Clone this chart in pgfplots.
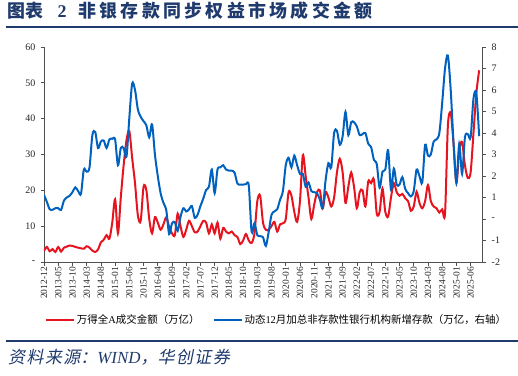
\documentclass[border=0pt]{standalone}
\usepackage{fontspec}
\setmainfont{Liberation Serif}
\newfontfamily\cjk{Noto Sans CJK SC}
\newfontfamily\cjkit[FakeSlant=0.2]{Noto Sans CJK SC}
\usepackage{pgfplots}
\pgfplotsset{compat=1.18}
\usepackage{pgfplotstable}
\definecolor{myred}{RGB}{230,20,30}
\definecolor{myblue}{RGB}{0,98,190}
\definecolor{navy}{RGB}{31,58,108}
\definecolor{axisgray}{RGB}{80,80,80}

\pgfplotstableread{
m v
0 3.1
1 4.2
2 3.0
3 3.6
4 2.8
5 4.2
6 2.9
7 4.0
8 4.3
9 4.6
10 4.5
11 4.2
12 4.0
13 3.8
14 3.7
15 4.4
16 4.0
17 3.2
18 2.8
19 3.5
20 5.5
21 6.2
22 7.5
23 6.5
24 11
25 17.5
26 8
27 18
28 27
29 34
30 36.5
31 29
32 22
33 13
34 11.5
35 21
36 20
37 12
38 8
39 12.5
40 11
41 9
42 10.5
43 12.5
44 9.8
45 8
46 7.5
47 13.5
48 10
49 7
50 9
51 11.5
52 10
53 8.3
54 8.5
55 10
56 11.5
57 11
58 8
59 10.5
60 8
61 11
62 6.5
63 9.5
64 8.5
65 8
66 8.5
67 7.5
68 7
69 5
70 6
71 7.8
72 6
73 5.3
74 8
75 17
76 18.5
77 11
78 9
79 9
80 10
81 11.2
82 8.5
83 10.5
84 10.8
85 12
86 19.5
87 18.5
88 14
89 11.2
90 17
91 29.8
92 24
93 18
94 12
95 16
96 19.5
97 20
98 15
99 19.5
100 18
101 15.5
102 18
103 25
104 28.8
105 25
106 16.5
107 21
108 25
109 21
110 15
111 19.5
112 20
113 15.5
114 22.5
115 22
116 23
117 13.5
118 14
119 20.5
120 14
121 12.7
122 18
123 22
124 19.5
125 18.5
126 19
127 17.8
128 17
129 14.3
130 15.5
131 19.6
132 16.5
133 15
134 17
135 21.5
136 17
137 15.5
138 15
139 13.8
140 14.7
141 13.5
142 38
143 41.5
144 33
145 22
146 31
147 33.5
148 27
149 23.5
150 25
151 36
152 47
153 53.5
}\reddata

\pgfplotstableread{
m v
0 1.12
1 0.8
2 0.45
3 0.43
4 0.5
5 0.5
6 0.42
7 0.85
8 1.0
9 1.08
10 1.25
11 1.47
12 1.3
13 1.17
14 2.3
15 2.2
16 2.4
17 3.9
18 4.05
19 3.3
20 3.6
21 3.65
22 3.3
23 3.7
24 3.73
25 3.7
26 2.5
27 3.3
28 3.3
29 2.9
30 4.7
31 6.3
32 6.0
33 5.1
34 4.75
35 4.55
36 4.35
37 3.8
38 4.4
39 3.0
40 2.0
41 1.2
42 0.75
43 0.4
44 -0.7
45 -0.2
46 -0.15
47 -0.55
48 0.1
49 0.5
50 0.35
51 0.45
52 0.6
53 0.05
54 0.2
55 0.6
56 0.95
57 1.35
58 1.5
59 2.3
60 1.2
61 2.3
62 2.4
63 2.5
64 2.3
65 2.25
66 2.25
67 2.15
68 1.65
69 1.6
70 1.6
71 1.62
72 1.55
73 -0.6
74 -0.2
75 -0.75
76 -0.8
77 -0.85
78 -1.25
79 -0.6
80 0.2
81 0.35
82 0.45
83 0.9
84 1.3
85 2.5
86 2.85
87 2.4
88 2.95
89 2.5
90 2.1
91 2.1
92 1.5
93 1.7
94 1.3
95 1.25
96 1.2
97 0.9
98 0.5
99 1.8
100 2.6
101 2.4
102 4.0
103 4.1
104 3.45
105 3.85
106 4.98
107 3.9
108 4.5
109 4.5
110 4.3
111 3.9
112 3.95
113 4.0
114 3.5
115 3.35
116 2.75
117 2.55
118 1.45
119 2.2
120 2.3
121 3.2
122 1.35
123 2.35
124 1.6
125 1.6
126 1.95
127 1.4
128 1.2
129 1.05
130 1.3
131 2.3
132 2.0
133 1.7
134 3.45
135 2.95
136 3.0
137 3.6
138 3.7
139 4.0
140 5.4
141 7.0
142 7.6
143 6.0
144 3.5
145 1.7
146 3.5
147 2.1
148 3.8
149 3.95
150 3.8
151 5.6
152 5.85
153 3.85
}\bluedata

\newcommand{\tk}{\kern3.3bp}

\begin{document}
\begin{tikzpicture}
\useasboundingbox (0bp,0bp) rectangle (518bp,376bp);
% title
\node[anchor=west, inner sep=0pt, text=navy, font=\fontsize{18}{18}\selectfont\bfseries] at (7bp,365.5bp)
 {{\cjk 图\kern0.5bp 表}\kern14bp 2\kern12bp{\cjk 非\tk 银\tk 存\tk 款\tk 同\tk 步\tk 权\tk 益\tk 市\tk 场\tk 成\tk 交\tk 金\tk 额}};
\draw[navy, line width=2bp] (6bp,349.3bp) -- (518bp,349.3bp);
\draw[navy, line width=2bp] (6bp,35.3bp) -- (518bp,35.3bp);
\node[anchor=west, inner sep=0pt, text=navy, font=\fontsize{17}{17}\selectfont] at (8bp,19bp)
 {\cjkit 资\kern1.5bp 料\kern1.5bp 来\kern1.5bp 源：{\rmfamily\itshape WIND}，华\kern1.5bp 创\kern1.5bp 证\kern1.5bp 券};

\begin{axis}[
  at={(44bp,114bp)}, anchor=south west,
  scale only axis, width=438bp, height=215bp,
  xmin=0, xmax=154, ymin=0, ymax=60,
  axis x line*=bottom, axis y line*=left,
  axis line style={axisgray, line width=0.8bp},
  tick style={axisgray, line width=0.7bp},
  tick align=outside, major tick length=3.5bp,
  xtick={0,5,...,150},
  xticklabels={2012-12,2013-05,2013-10,2014-03,2014-08,2015-01,2015-06,2015-11,2016-04,2016-09,2017-02,2017-07,2017-12,2018-05,2018-10,2019-03,2019-08,2020-01,2020-06,2020-11,2021-04,2021-09,2022-02,2022-07,2022-12,2023-05,2023-10,2024-03,2024-08,2025-01,2025-06},
  xticklabel style={rotate=90, anchor=east, font=\fontsize{9.5}{10}\selectfont, inner sep=1.5bp, text=black!85},
  ytick={0,10,...,60},
  yticklabels={-,10,20,30,40,50,60},
  yticklabel style={font=\fontsize{10}{10}\selectfont, text=black!85, inner sep=2bp, xshift=-3bp},
  legend style={at={(-0.005,-0.27)}, anchor=west, draw=none, fill=none,
    font=\fontsize{10.5}{12}\selectfont, legend columns=2,
    /tikz/every even column/.append style={column sep=11bp}},
  legend cell align=left,
  legend image code/.code={\draw[#1] (0bp,0bp) -- (28bp,0bp);},
]
\addplot[myred, line width=2bp, smooth, tension=0.5] table[x=m, y=v] {\reddata};
\addlegendentry{{\cjk 万得全}A{\cjk 成交金额（万亿）}}
\addlegendimage{myblue, line width=2bp}
\addlegendentry{{\cjk 动态}12{\cjk 月加总非存款性银行机构新增存款（万亿，右轴）}}
\end{axis}

\begin{axis}[
  at={(44bp,114bp)}, anchor=south west,
  scale only axis, width=438bp, height=215bp,
  xmin=0, xmax=154, ymin=-2, ymax=8,
  hide x axis,
  axis y line*=right,
  axis line style={axisgray, line width=0.8bp},
  tick style={axisgray, line width=0.7bp},
  tick align=outside, major tick length=3.5bp,
  ytick={-2,-1,...,8},
  yticklabels={-2,-1,-,1,2,3,4,5,6,7,8},
  yticklabel style={font=\fontsize{10}{10}\selectfont, text=black!85, inner sep=2bp, xshift=4bp},
]
\addplot[myblue, line width=2bp, smooth, tension=0.5] table[x=m, y=v] {\bluedata};
\end{axis}
\end{tikzpicture}
\end{document}
